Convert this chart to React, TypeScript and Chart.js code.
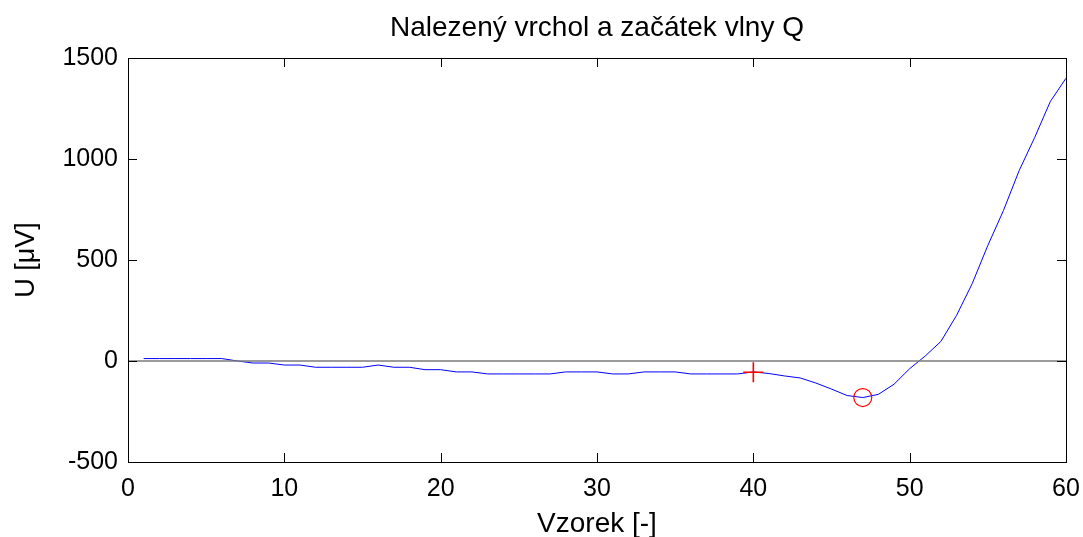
import React, { useEffect, useRef } from 'react';
import { Chart, registerables } from 'chart.js';

Chart.register(...registerables);

// ---- data ----
const samples = [
  1, 2, 3, 4, 5, 6, 7, 8, 9, 10,
  11, 12, 13, 14, 15, 16, 17, 18, 19, 20,
  21, 22, 23, 24, 25, 26, 27, 28, 29, 30,
  31, 32, 33, 34, 35, 36, 37, 38, 39, 40,
  41, 42, 43, 44, 45, 46, 47, 48, 49, 50,
  51, 52, 53, 54, 55, 56, 57, 58, 59, 60,
];
const voltage = [
  12, 12, 12, 12, 12, 12, 0, -10, -10, -20,
  -20, -31, -31, -31, -31, -20, -31, -31, -43, -43,
  -54, -54, -64, -64, -64, -64, -64, -54, -54, -54,
  -64, -64, -54, -54, -54, -64, -64, -64, -64, -54,
  -62, -74, -84, -109, -139, -171, -181, -165, -115, -38,
  25, 97, 226, 383, 572, 745, 942, 1107, 1285, 1400,
];
const zeroLineX = [0, 60];
const zeroLineY = [0, 0];
const markerX = [40, 47];
const markerY = [-56, -181];
const markerStyles = ['cross', 'circle'];
const xTickValues = [0, 10, 20, 30, 40, 50, 60];
const yTickValues = [-500, 0, 500, 1000, 1500];

const titleText = 'Nalezený vrchol a začátek vlny Q';
const xTitle = 'Vzorek [-]';
const yTitle = 'U [\u03bcV]';

const FONT = '"Liberation Sans", Arial, Helvetica, sans-serif';

const boxTicks = {
  id: 'boxTicks',
  afterDatasetsDraw(chart: any) {
    const { ctx, chartArea, scales } = chart;
    const { left, right, top, bottom } = chartArea;
    const xs = scales.x;
    const ys = scales.y;
    const len = 9;
    ctx.save();
    ctx.strokeStyle = '#000';
    ctx.lineWidth = 1;
    ctx.beginPath();
    xs.ticks.forEach((t: any) => {
      const px = Math.round(xs.getPixelForValue(t.value)) + 0.5;
      ctx.moveTo(px, bottom);
      ctx.lineTo(px, bottom - len);
      ctx.moveTo(px, top);
      ctx.lineTo(px, top + len);
    });
    ys.ticks.forEach((t: any) => {
      const py = Math.round(ys.getPixelForValue(t.value)) + 0.5;
      ctx.moveTo(left, py);
      ctx.lineTo(left + len, py);
      ctx.moveTo(right, py);
      ctx.lineTo(right - len, py);
    });
    ctx.stroke();
    ctx.strokeRect(Math.round(left) + 0.5, Math.round(top) + 0.5, Math.round(right - left), Math.round(bottom - top));
    ctx.restore();
  },
};

export default function App() {
  const canvasRef = useRef<HTMLCanvasElement | null>(null);

  useEffect(() => {
    const canvas = canvasRef.current;
    if (!canvas) return;
    Chart.defaults.color = '#000';
    const chart = new Chart(canvas, {
      type: 'line',
      data: {
        datasets: [
          {
            label: 'markers',
            data: markerX.map((x, i) => ({ x, y: markerY[i] })),
            showLine: false,
            pointStyle: markerStyles as any,
            pointRadius: [10, 9],
            pointBorderColor: '#ff0000',
            pointBackgroundColor: 'rgba(0,0,0,0)',
            pointBorderWidth: [1.6, 1.2],
          },
          {
            label: 'zero',
            data: zeroLineX.map((x, i) => ({ x, y: zeroLineY[i] })),
            borderColor: '#7a7a7a',
            borderWidth: 1.6,
            pointRadius: 0,
          },
          {
            label: 'U',
            data: samples.map((x, i) => ({ x, y: voltage[i] })),
            borderColor: '#0000ff',
            borderWidth: 1,
            pointRadius: 0,
            tension: 0,
          },
        ],
      },
      options: {
        animation: false,
        responsive: false,
        layout: { padding: { left: 0, right: 17, top: 0, bottom: 0 } },
        plugins: {
          legend: { display: false },
          tooltip: { enabled: false },
          title: {
            display: true,
            fullSize: false,
            text: titleText,
            color: '#000',
            font: { family: FONT, size: 28, weight: 'normal' },
            padding: { top: 11, bottom: 13.4 },
          },
        },
        scales: {
          x: {
            type: 'linear',
            min: 0,
            max: 60,
            afterBuildTicks: (s: any) => {
              s.ticks = xTickValues.map((v) => ({ value: v }));
            },
            afterFit: (s: any) => {
              s.height = 75;
              s.paddingLeft = 0;
              s.paddingRight = 0;
            },
            grid: { display: false, drawTicks: false },
            border: { display: false },
            ticks: {
              color: '#000',
              padding: 12,
              maxRotation: 0,
              font: { family: FONT, size: 25 },
              callback: (v: any) => String(v),
            },
            title: {
              display: true,
              text: xTitle,
              color: '#000',
              font: { family: FONT, size: 28, lineHeight: 0.9 },
              padding: { top: 0, bottom: 0 },
            },
          },
          y: {
            type: 'linear',
            min: -500,
            max: 1500,
            afterBuildTicks: (s: any) => {
              s.ticks = yTickValues.map((v) => ({ value: v }));
            },
            afterFit: (s: any) => {
              s.width = 128;
              s.paddingTop = 0;
              s.paddingBottom = 0;
            },
            grid: { display: false, drawTicks: false },
            border: { display: false },
            ticks: {
              color: '#000',
              padding: 10,
              font: { family: FONT, size: 25 },
              callback: (v: any) => String(v),
            },
            title: {
              display: true,
              text: yTitle,
              color: '#000',
              font: { family: FONT, size: 27 },
              padding: { top: 10, bottom: 0 },
            },
          },
        },
      },
      plugins: [boxTicks],
    });
    return () => chart.destroy();
  }, []);

  return (
    <div style={{ position: 'fixed', left: 0, top: 0, width: 1083, height: 537, overflow: 'hidden', background: '#fff' }}>
      <canvas ref={canvasRef} width={1083} height={537} style={{ display: 'block' }} />
    </div>
  );
}
